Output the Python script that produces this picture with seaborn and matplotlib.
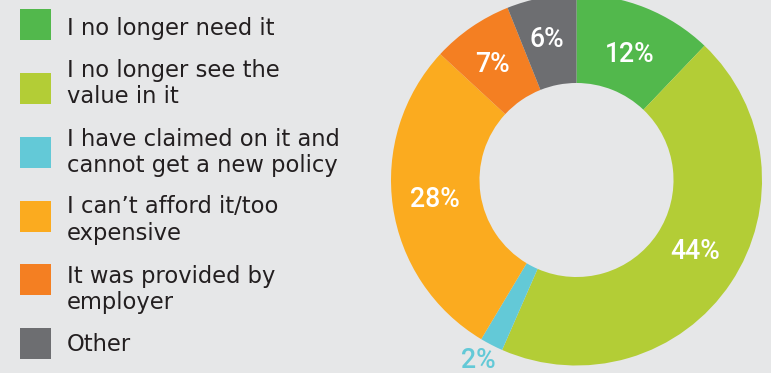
import matplotlib
matplotlib.use("Agg")
import matplotlib.pyplot as plt
from matplotlib.patches import Rectangle
import seaborn as sns
import numpy as np

# Reasons for cancelling a policy (share of respondents, %)
categories = [
    "I no longer need it",
    "I no longer see the\nvalue in it",
    "I have claimed on it and\ncannot get a new policy",
    "I can\u2019t afford it/too\nexpensive",
    "It was provided by\nemployer",
    "Other",
]
shares = [12, 44, 2, 28, 7, 6]
pct_labels = ["12%", "44%", "2%", "28%", "7%", "6%"]
colors = ["#52b84c", "#b3cd36", "#63c9d7", "#fbab1f", "#f47f22", "#6d6e71"]

BG = "#e6e7e8"
TEXT = "#231f20"

sns.set_theme(style="white")
plt.rcParams["font.family"] = ["DejaVu Sans"]

W, H = 771, 373
fig = plt.figure(figsize=(W / 100, H / 100), dpi=100, facecolor=BG)

# ---- donut ----
cx, cy, R = 576.5, 193.0, 185.5  # pixel centre (from bottom) and outer radius
ax = fig.add_axes([(cx - R) / W, (cy - R) / H, 2 * R / W, 2 * R / H])
ax.set_facecolor("none")
ax.axis("off")
wedges, _ = ax.pie(
    shares,
    colors=colors,
    startangle=90,
    counterclock=False,
    radius=1.0,
    wedgeprops=dict(width=0.477, linewidth=0),
)
for w in wedges:
    w.set_clip_on(False)
ax.set_xlim(-1, 1)
ax.set_ylim(-1, 1)
ax.set_aspect("equal")

# label placement (angle clockwise from 12 o'clock, radius)
label_pos = [(23.0, 0.733), (121.2, 0.745), (208.5, 1.11),
             (262.2, 0.769), (323.9, 0.771), (347.9, 0.772)]
for txt, col, (ang, r) in zip(pct_labels, colors, label_pos):
    a = np.deg2rad(ang)
    x, y = r * np.sin(a), r * np.cos(a)
    ax.text(x, y, txt, ha="center", va="center", fontsize=19.2,
            family=["Roboto", "DejaVu Sans"], fontweight="medium",
            color=(col if r > 1 else "white"), clip_on=False)

# ---- legend ----
sq_top = [9, 73, 137, 201, 264, 328]
baselines = [35, 76.7, 145.7, 213.3, 282.7, 350.7]
line_gap = 26.5
for cat, col, top, base in zip(categories, colors, sq_top, baselines):
    fig.patches.append(Rectangle((20 / W, (H - top - 31) / H), 31 / W, 31 / H,
                                 transform=fig.transFigure, facecolor=col,
                                 edgecolor="none"))
    for i, line in enumerate(cat.split("\n")):
        fig.text(67 / W, (H - base - i * line_gap) / H, line, ha="left",
                 va="baseline", fontsize=16.3, color=TEXT)

fig.savefig("out.png", dpi=100, facecolor=BG)
